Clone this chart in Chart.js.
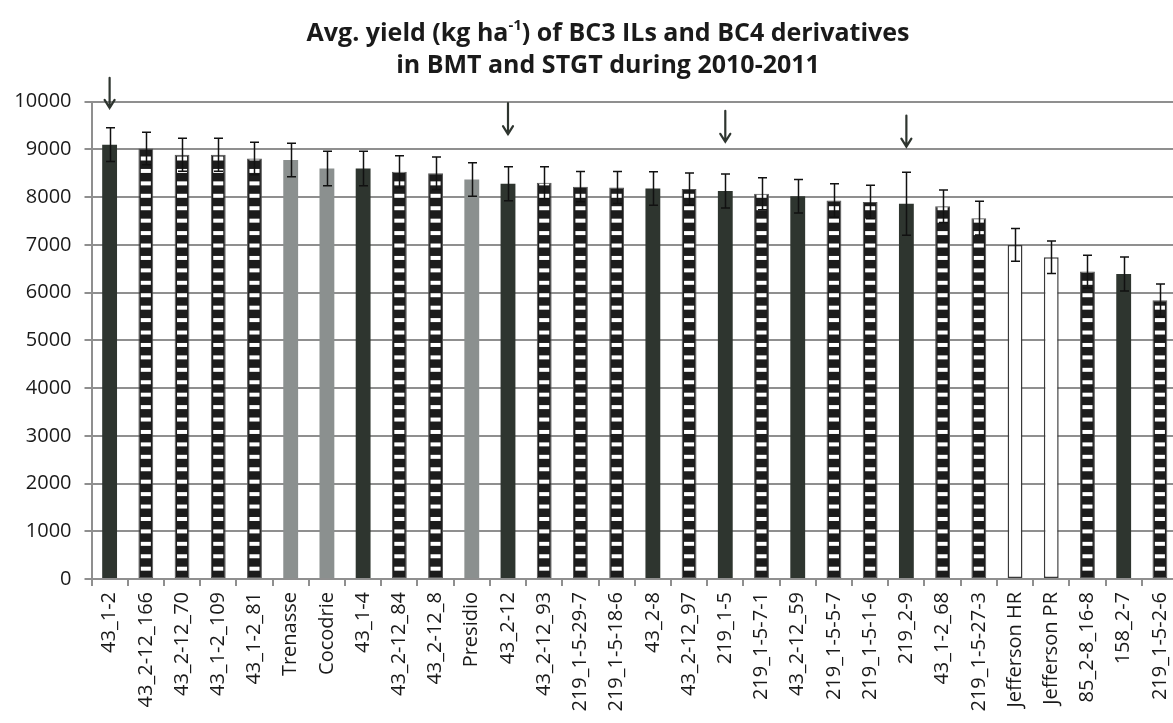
<!DOCTYPE html>
<html>
<head>
<meta charset="utf-8">
<script src="https://cdn.jsdelivr.net/npm/chart.js@4.4.1/dist/chart.umd.min.js"></script>
<style>
  html, body { margin: 0; padding: 0; background: #fff; overflow: hidden; }
  #wrap { width: 1173px; height: 723px; overflow: hidden; position: relative; }
  canvas { display: block; }
</style>
</head>
<body>
<div id="wrap"><canvas id="yield" width="1190" height="723"></canvas></div>
<script>
'use strict';

// ── Data ──────────────────────────────────────────────────────
const categories = [
  '43_1-2', '43_2-12_166', '43_2-12_70', '43_1-2_109', '43_1-2_81',
  'Trenasse', 'Cocodrie', '43_1-4', '43_2-12_84', '43_2-12_8',
  'Presidio', '43_2-12', '43_2-12_93', '219_1-5-29-7', '219_1-5-18-6',
  '43_2-8', '43_2-12_97', '219_1-5', '219_1-5-7-1', '43_2-12_59',
  '219_1-5-5-7', '219_1-5-1-6', '219_2-9', '43_1-2_68', '219_1-5-27-3',
  'Jefferson HR', 'Jefferson PR', '85_2-8_16-8', '158_2-7', '219_1-5-2-6',
];

const yields = [
  9100, 9020, 8890, 8890, 8810,
  8780, 8600, 8600, 8530, 8500,
  8370, 8280, 8300, 8220, 8200,
  8180, 8170, 8130, 8070, 8020,
  7930, 7900, 7860, 7810, 7560,
  7000, 6740, 6440, 6390, 5840,
];

const errors = [
  355, 340, 345, 345, 340,
  350, 360, 360, 335, 340,
  350, 355, 335, 315, 335,
  350, 335, 355, 335, 350,
  350, 350, 660, 340, 355,
  345, 340, 345, 355, 340,
];

// line type: IL = BC3 introgression line, BC4 = derivative, check = parent, jeff = Jefferson
const lineType = [
  'IL', 'BC4', 'BC4', 'BC4', 'BC4',
  'check', 'check', 'IL', 'BC4', 'BC4',
  'check', 'IL', 'BC4', 'BC4', 'BC4',
  'IL', 'BC4', 'IL', 'BC4', 'IL',
  'BC4', 'BC4', 'IL', 'BC4', 'BC4',
  'jeff', 'jeff', 'BC4', 'IL', 'BC4',
];

// arrows drawn above selected lines (tip value / tail value in kg/ha)
const arrowCats  = ['43_1-2', '43_2-12', '219_1-5', '219_2-9'];
const arrowTips  = [9870, 9320, 9160, 9060];
const arrowTails = [10500, 9970, 9810, 9710];

const yTicks = [0, 1000, 2000, 3000, 4000, 5000, 6000, 7000, 8000, 9000, 10000];

// ── Styles ────────────────────────────────────────────────────
const STYLE = {
  IL:    { fill: '#2e352f', border: '#2e352f', width: 0 },
  BC4:   { fill: '#1c1c1c', border: '#555555', width: 1 },
  check: { fill: '#8b908f', border: '#8b908f', width: 0 },
  jeff:  { fill: '#ffffff', border: '#3a3a3a', width: 1.5 },
};
const GRID = '#8f8f8f';
const FONT = "'Open Sans', 'Noto Sans', sans-serif";

Chart.defaults.font.family = FONT;
Chart.defaults.color = '#1a1a1a';

// ── Plugins ───────────────────────────────────────────────────
const stripes = {
  id: 'stripes',
  afterDatasetsDraw(chart) {
    const { ctx } = chart;
    const meta = chart.getDatasetMeta(0);
    const bottom = chart.scales.y.getPixelForValue(0);
    ctx.save();
    meta.data.forEach((bar, i) => {
      if (lineType[i] !== 'BC4') return;
      const left = bar.x - bar.width / 2;
      const top = bar.y;
      ctx.save();
      ctx.beginPath();
      ctx.rect(left + 1, top + 1, bar.width - 2, bar.base - top - 1);
      ctx.clip();
      ctx.fillStyle = '#ffffff';
      for (let c = bottom - 10.3; c > top - 5; c -= 12.43) {
        ctx.fillRect(left + 2.4, c - 2, bar.width - 4.8, 4);
      }
      ctx.restore();
    });
    ctx.restore();
  },
};

const errorBars = {
  id: 'errorBars',
  afterDatasetsDraw(chart) {
    const { ctx, scales: { y } } = chart;
    const meta = chart.getDatasetMeta(0);
    ctx.save();
    ctx.strokeStyle = '#111';
    ctx.lineWidth = 1.5;
    meta.data.forEach((bar, i) => {
      const yHi = y.getPixelForValue(yields[i] + errors[i]);
      const yLo = y.getPixelForValue(yields[i] - errors[i]);
      const x = Math.round(bar.x) + 0.5;
      ctx.beginPath();
      ctx.moveTo(x, yHi); ctx.lineTo(x, yLo);
      ctx.moveTo(x - 4.5, yHi); ctx.lineTo(x + 4.5, yHi);
      ctx.moveTo(x - 4.5, yLo); ctx.lineTo(x + 4.5, yLo);
      ctx.stroke();
    });
    ctx.restore();
  },
};

const arrows = {
  id: 'arrows',
  afterDraw(chart) {
    const { ctx, scales: { x, y } } = chart;
    ctx.save();
    ctx.strokeStyle = '#2e352f';
    ctx.lineWidth = 2.2;
    ctx.lineCap = 'round';
    arrowCats.forEach((cat, i) => {
      const px = x.getPixelForValue(categories.indexOf(cat));
      const yTip = y.getPixelForValue(arrowTips[i]);
      const yTail = y.getPixelForValue(arrowTails[i]);
      ctx.beginPath();
      ctx.moveTo(px, yTail); ctx.lineTo(px, yTip);
      ctx.moveTo(px - 5, yTip - 8); ctx.lineTo(px, yTip); ctx.lineTo(px + 5, yTip - 8);
      ctx.stroke();
    });
    ctx.restore();
  },
};

const titleText = {
  id: 'titleText',
  afterDraw(chart) {
    const { ctx } = chart;
    const big = `bold 25px ${FONT}`;
    const small = `bold 15px ${FONT}`;
    const cx = 608;
    ctx.save();
    ctx.fillStyle = '#1a1a1a';
    ctx.textBaseline = 'alphabetic';
    ctx.textAlign = 'left';
    const a = 'Avg. yield (kg ha', s = '-1', b = ') of BC3 ILs and BC4 derivatives';
    ctx.font = big;  const wa = ctx.measureText(a).width, wb = ctx.measureText(b).width;
    ctx.font = small; const ws = ctx.measureText(s).width;
    let x0 = cx - (wa + ws + wb) / 2;
    ctx.font = big;   ctx.fillText(a, x0, 41);
    ctx.font = small; ctx.fillText(s, x0 + wa, 30);
    ctx.font = big;   ctx.fillText(b, x0 + wa + ws, 41);
    ctx.textAlign = 'center';
    ctx.fillText('in BMT and STGT during 2010-2011', cx, 73);
    ctx.restore();
  },
};

// ── Chart ─────────────────────────────────────────────────────
new Chart(document.getElementById('yield'), {
  type: 'bar',
  data: {
    labels: categories,
    datasets: [{
      data: yields,
      backgroundColor: lineType.map(t => STYLE[t].fill),
      borderColor: lineType.map(t => STYLE[t].border),
      borderWidth: lineType.map(t => STYLE[t].width),
      borderSkipped: false,
      barPercentage: 0.41,
      categoryPercentage: 1.0,
    }],
  },
  options: {
    responsive: false,
    devicePixelRatio: 1,
    animation: false,
    layout: { padding: { top: 101.7, right: 6, left: 0, bottom: 0 } },
    scales: {
      x: {
        afterFit: s => { s.height = 144; },
        grid: {
          offset: true,
          drawOnChartArea: false,
          drawTicks: true,
          tickLength: 7,
          color: GRID,
          lineWidth: 2,
        },
        border: { display: true, color: GRID, width: 2 },
        ticks: {
          autoSkip: false,
          minRotation: 90,
          maxRotation: 90,
          padding: 6,
          color: '#1a1a1a',
          font: { size: 20 },
        },
      },
      y: {
        min: 0,
        max: 10000,
        afterFit: s => { s.width = 91.5; },
        afterBuildTicks: s => { s.ticks = yTicks.map(v => ({ value: v })); },
        grid: { color: GRID, lineWidth: 2, tickLength: 7 },
        border: { display: true, color: GRID, width: 2 },
        ticks: {
          padding: 13,
          color: '#1a1a1a',
          font: { size: 20 },
          callback: v => String(v),
        },
      },
    },
    plugins: {
      legend: { display: false },
      title: { display: false },
      tooltip: { enabled: false },
    },
  },
  plugins: [stripes, errorBars, arrows, titleText],
});
</script>
</body>
</html>
